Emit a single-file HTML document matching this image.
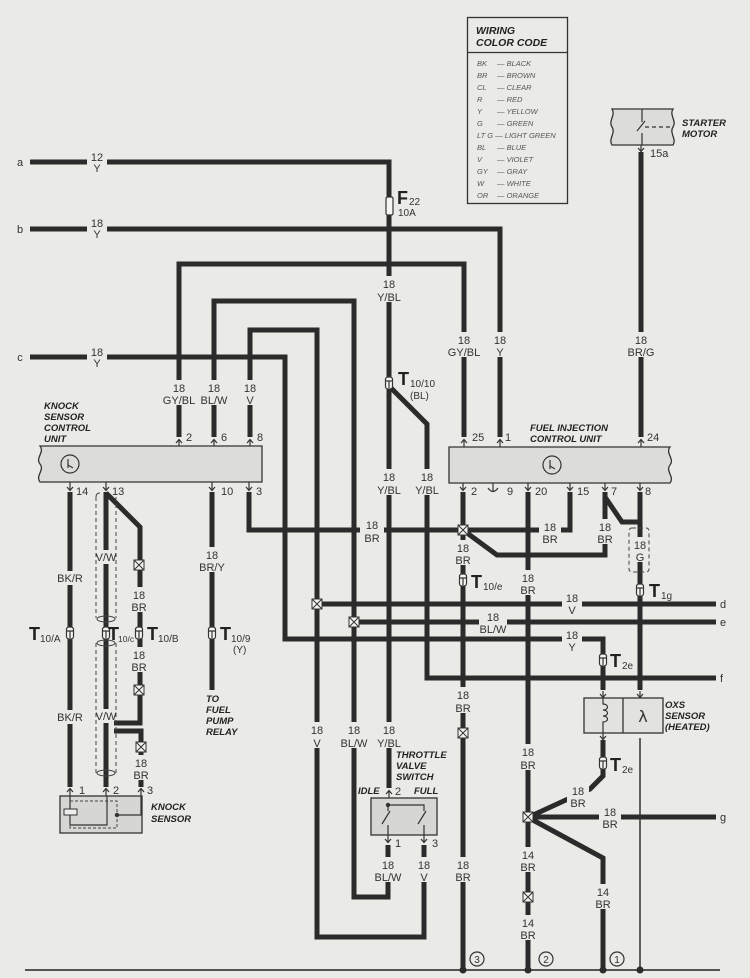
<!DOCTYPE html>
<html><head><meta charset="utf-8"><style>
html,body{margin:0;padding:0;background:#eaeae6}
svg{display:block}
.t{font-family:"Liberation Sans",sans-serif;font-size:11px;fill:#333;text-anchor:middle}
.p{font-family:"Liberation Sans",sans-serif;font-size:11px;fill:#333}
.h{font-family:"Liberation Sans",sans-serif;font-size:9.5px;font-weight:bold;font-style:italic;fill:#222}
.c{font-family:"Liberation Sans",sans-serif;font-size:7.5px;font-style:italic;fill:#555}
.T{font-family:"Liberation Sans",sans-serif;font-size:18px;font-weight:bold;fill:#222}
.s{font-family:"Liberation Sans",sans-serif;font-size:10px;fill:#333}
.m{fill:#eaeae6}
</style></head><body>
<svg width="750" height="978" viewBox="0 0 750 978" xmlns="http://www.w3.org/2000/svg">
<rect width="750" height="978" fill="#eaeae6"/>

<!-- color code box -->
<rect x="467.5" y="17.5" width="100" height="186" fill="none" stroke="#333" stroke-width="1.3"/>
<line x1="467" y1="52.5" x2="568" y2="52.5" stroke="#333" stroke-width="1.3"/>
<text x="476" y="34" class="h" style="font-size:10.5px">WIRING</text>
<text x="476" y="46" class="h" style="font-size:10.5px">COLOR CODE</text>
<g class="c">
<text class="c" x="477" y="66">BK</text><text class="c" x="497" y="66">—  BLACK</text>
<text class="c" x="477" y="78">BR</text><text class="c" x="497" y="78">—  BROWN</text>
<text class="c" x="477" y="90">CL</text><text class="c" x="497" y="90">—  CLEAR</text>
<text class="c" x="477" y="102">R</text><text class="c" x="497" y="102">—  RED</text>
<text class="c" x="477" y="114">Y</text><text class="c" x="497" y="114">—  YELLOW</text>
<text class="c" x="477" y="126">G</text><text class="c" x="497" y="126">—  GREEN</text>
<text class="c" x="477" y="138">LT G — LIGHT GREEN</text>
<text class="c" x="477" y="150">BL</text><text class="c" x="497" y="150">—  BLUE</text>
<text class="c" x="477" y="162">V</text><text class="c" x="497" y="162">—  VIOLET</text>
<text class="c" x="477" y="174">GY</text><text class="c" x="497" y="174">—  GRAY</text>
<text class="c" x="477" y="186">W</text><text class="c" x="497" y="186">—  WHITE</text>
<text class="c" x="477" y="198">OR</text><text class="c" x="497" y="198">—  ORANGE</text>
</g>

<!-- wires -->
<g fill="none" stroke="#2b2b2b" stroke-width="5" stroke-linejoin="miter">
<path d="M30,162 H389 V788"/>
<path d="M30,229 H500 V437"/>
<path d="M179,437 V264 H464 V437"/>
<path d="M214,437 V301 H354 V897 H388 V845"/>
<path d="M250,437 V330 H317 V937 H424 V845"/>
<path d="M30,357 H285 V639 H603 V690"/>
<path d="M389,386 L427,424 V678 H716"/>
<path d="M249,492 V530 H570 V492"/>
<path d="M463,492 V970"/>
<path d="M463,530 L497,555 H605 V492"/>
<path d="M605,497 L622,522 H640"/>
<path d="M528,492 V970"/>
<path d="M640,492 V690"/>
<path d="M641,152 V437"/>
<path d="M317,604 H716"/>
<path d="M354,622 H716"/>
<path d="M528,817 H716"/>
<path d="M531,816 L568,799 L590,789 L603,776 V740"/>
<path d="M531,819 L603,858 V970"/>
<path d="M70,492 V787"/>
<path d="M106,492 V787"/>
<path d="M106,493 L140,527 V723 H114"/>
<path d="M114,731 H141 V787"/>
<path d="M212,492 V690"/>
</g>
<path d="M640,738 V970" stroke="#333" stroke-width="1.5" fill="none"/>
<line x1="25" y1="970" x2="720" y2="970" stroke="#555" stroke-width="2"/>
<g fill="#2b2b2b"><circle cx="463" cy="970" r="3.5"/><circle cx="528" cy="970" r="3.5"/><circle cx="603" cy="970" r="3.5"/><circle cx="640" cy="970" r="3.5"/></g>

<!-- shields -->
<g fill="none" stroke="#444" stroke-width="1" stroke-dasharray="4,3">
<path d="M96,497 V618 M116,497 V618 M96,643 V773 M116,643 V773"/>
<rect x="629" y="528" width="20" height="44" rx="3"/>
</g>
<g fill="none" stroke="#444" stroke-width="1">
<ellipse cx="106" cy="619" rx="9" ry="3"/><ellipse cx="106" cy="643" rx="9" ry="3"/><ellipse cx="106" cy="773" rx="9" ry="3"/>
<path d="M96,497 Q96,493 100,493"/>
</g>

<!-- end letters -->
<text class="t" x="20" y="166">a</text>
<text class="t" x="20" y="233">b</text>
<text class="t" x="20" y="361">c</text>
<text class="p" x="720" y="608">d</text>
<text class="p" x="720" y="626">e</text>
<text class="p" x="720" y="682">f</text>
<text class="p" x="720" y="821">g</text>

<!-- wire labels -->
<rect class="m" x="87" y="150" width="20" height="25"/><text class="t" x="97" y="161">12</text><text class="t" x="97" y="172">Y</text>
<rect class="m" x="87" y="216" width="20" height="25"/><text class="t" x="97" y="227">18</text><text class="t" x="97" y="238">Y</text>
<rect class="m" x="87" y="345" width="20" height="25"/><text class="t" x="97" y="356">18</text><text class="t" x="97" y="367">Y</text>
<rect class="m" x="378" y="276" width="23" height="26"/><text class="t" x="389" y="288">18</text><text class="t" x="389" y="301">Y/BL</text>
<rect class="m" x="450" y="332" width="28" height="25"/><text class="t" x="464" y="344">18</text><text class="t" x="464" y="356">GY/BL</text>
<rect class="m" x="493" y="332" width="14" height="25"/><text class="t" x="500" y="344">18</text><text class="t" x="500" y="356">Y</text>
<rect class="m" x="629" y="332" width="24" height="25"/><text class="t" x="641" y="344">18</text><text class="t" x="641" y="356">BR/G</text>
<rect class="m" x="165" y="380" width="28" height="25"/><text class="t" x="179" y="392">18</text><text class="t" x="179" y="404">GY/BL</text>
<rect class="m" x="202" y="380" width="24" height="25"/><text class="t" x="214" y="392">18</text><text class="t" x="214" y="404">BL/W</text>
<rect class="m" x="244" y="380" width="12" height="25"/><text class="t" x="250" y="392">18</text><text class="t" x="250" y="404">V</text>
<rect class="m" x="378" y="469" width="23" height="26"/><text class="t" x="389" y="481">18</text><text class="t" x="389" y="494">Y/BL</text>
<rect class="m" x="415" y="469" width="24" height="26"/><text class="t" x="427" y="481">18</text><text class="t" x="427" y="494">Y/BL</text>
<rect class="m" x="360" y="517" width="24" height="26"/><text class="t" x="372" y="529">18</text><text class="t" x="372" y="542">BR</text>
<rect class="m" x="455" y="540" width="16" height="25"/><text class="t" x="463" y="552">18</text><text class="t" x="463" y="564">BR</text>
<rect class="m" x="539" y="519" width="22" height="25"/><text class="t" x="550" y="531">18</text><text class="t" x="550" y="543">BR</text>
<rect class="m" x="597" y="519" width="16" height="25"/><text class="t" x="605" y="531">18</text><text class="t" x="605" y="543">BR</text>
<rect class="m" x="634" y="537" width="12" height="25"/><text class="t" x="640" y="549">18</text><text class="t" x="640" y="561">G</text>
<rect class="m" x="520" y="570" width="16" height="25"/><text class="t" x="528" y="582">18</text><text class="t" x="528" y="594">BR</text>
<rect class="m" x="562" y="590" width="20" height="25"/><text class="t" x="572" y="602">18</text><text class="t" x="572" y="614">V</text>
<rect class="m" x="479" y="609" width="28" height="25"/><text class="t" x="493" y="621">18</text><text class="t" x="493" y="633">BL/W</text>
<rect class="m" x="562" y="627" width="20" height="25"/><text class="t" x="572" y="639">18</text><text class="t" x="572" y="651">Y</text>
<rect class="m" x="455" y="687" width="16" height="26"/><text class="t" x="463" y="699">18</text><text class="t" x="463" y="712">BR</text>
<rect class="m" x="310" y="722" width="14" height="26"/><text class="t" x="317" y="734">18</text><text class="t" x="317" y="747">V</text>
<rect class="m" x="342" y="722" width="24" height="26"/><text class="t" x="354" y="734">18</text><text class="t" x="354" y="747">BL/W</text>
<rect class="m" x="378" y="722" width="23" height="26"/><text class="t" x="389" y="734">18</text><text class="t" x="389" y="747">Y/BL</text>
<rect class="m" x="520" y="744" width="16" height="26"/><text class="t" x="528" y="756">18</text><text class="t" x="528" y="769">BR</text>
<rect class="m" x="567" y="783" width="22" height="25"/><text class="t" x="578" y="795">18</text><text class="t" x="578" y="807">BR</text>
<rect class="m" x="599" y="804" width="22" height="25"/><text class="t" x="610" y="816">18</text><text class="t" x="610" y="828">BR</text>
<rect class="m" x="520" y="847" width="16" height="25"/><text class="t" x="528" y="859">14</text><text class="t" x="528" y="871">BR</text>
<rect class="m" x="520" y="915" width="16" height="25"/><text class="t" x="528" y="927">14</text><text class="t" x="528" y="939">BR</text>
<rect class="m" x="595" y="884" width="16" height="25"/><text class="t" x="603" y="896">14</text><text class="t" x="603" y="908">BR</text>
<rect class="m" x="376" y="857" width="24" height="25"/><text class="t" x="388" y="869">18</text><text class="t" x="388" y="881">BL/W</text>
<rect class="m" x="417" y="857" width="14" height="25"/><text class="t" x="424" y="869">18</text><text class="t" x="424" y="881">V</text>
<rect class="m" x="455" y="857" width="16" height="25"/><text class="t" x="463" y="869">18</text><text class="t" x="463" y="881">BR</text>
<rect class="m" x="62" y="571" width="16" height="14"/><text class="t" x="70" y="582">BK/R</text>
<rect class="m" x="62" y="710" width="16" height="14"/><text class="t" x="70" y="721">BK/R</text>
<rect class="m" x="101" y="550" width="10" height="14"/><text class="t" x="106" y="561">V/W</text>
<rect class="m" x="101" y="709" width="10" height="14"/><text class="t" x="106" y="720">V/W</text>
<rect class="m" x="131" y="587" width="16" height="25"/><text class="t" x="139" y="599">18</text><text class="t" x="139" y="611">BR</text>
<rect class="m" x="131" y="647" width="16" height="25"/><text class="t" x="139" y="659">18</text><text class="t" x="139" y="671">BR</text>
<rect class="m" x="133" y="755" width="16" height="25"/><text class="t" x="141" y="767">18</text><text class="t" x="141" y="779">BR</text>
<rect class="m" x="200" y="547" width="24" height="25"/><text class="t" x="212" y="559">18</text><text class="t" x="212" y="571">BR/Y</text>

<!-- fuse -->
<rect x="386" y="197" width="7" height="18" rx="1.5" fill="#f5f5f1" stroke="#333" stroke-width="1.2"/>
<text class="T" x="397" y="204">F</text><text class="s" x="409" y="205">22</text>
<text class="s" x="398" y="216">10A</text>

<!-- splices -->
<g fill="#f3f3ef" stroke="#333" stroke-width="1">
<g transform="translate(463,530)"><rect x="-5" y="-5" width="10" height="10"/><path d="M-5,-5 L5,5 M5,-5 L-5,5"/></g>
<g transform="translate(317,604)"><rect x="-5" y="-5" width="10" height="10"/><path d="M-5,-5 L5,5 M5,-5 L-5,5"/></g>
<g transform="translate(354,622)"><rect x="-5" y="-5" width="10" height="10"/><path d="M-5,-5 L5,5 M5,-5 L-5,5"/></g>
<g transform="translate(139,565)"><rect x="-5" y="-5" width="10" height="10"/><path d="M-5,-5 L5,5 M5,-5 L-5,5"/></g>
<g transform="translate(139,690)"><rect x="-5" y="-5" width="10" height="10"/><path d="M-5,-5 L5,5 M5,-5 L-5,5"/></g>
<g transform="translate(141,747)"><rect x="-5" y="-5" width="10" height="10"/><path d="M-5,-5 L5,5 M5,-5 L-5,5"/></g>
<g transform="translate(463,733)"><rect x="-5" y="-5" width="10" height="10"/><path d="M-5,-5 L5,5 M5,-5 L-5,5"/></g>
<g transform="translate(528,817)"><rect x="-5" y="-5" width="10" height="10"/><path d="M-5,-5 L5,5 M5,-5 L-5,5"/></g>
<g transform="translate(528,897)"><rect x="-5" y="-5" width="10" height="10"/><path d="M-5,-5 L5,5 M5,-5 L-5,5"/></g>
</g>

<!-- T connectors -->
<g fill="#f5f5f1" stroke="#333" stroke-width="1.2">
<g transform="translate(389,383)"><rect x="-3.5" y="-6" width="7" height="12" rx="2.5"/><path d="M-3.5,-2 H3.5 M0,-2 V5" fill="none"/></g>
<g transform="translate(463,580)"><rect x="-3.5" y="-6" width="7" height="12" rx="2.5"/><path d="M-3.5,-2 H3.5 M0,-2 V5" fill="none"/></g>
<g transform="translate(640,590)"><rect x="-3.5" y="-6" width="7" height="12" rx="2.5"/><path d="M-3.5,-2 H3.5 M0,-2 V5" fill="none"/></g>
<g transform="translate(603,660)"><rect x="-3.5" y="-6" width="7" height="12" rx="2.5"/><path d="M-3.5,-2 H3.5 M0,-2 V5" fill="none"/></g>
<g transform="translate(603,763)"><rect x="-3.5" y="-6" width="7" height="12" rx="2.5"/><path d="M-3.5,-2 H3.5 M0,-2 V5" fill="none"/></g>
<g transform="translate(70,633)"><rect x="-3.5" y="-6" width="7" height="12" rx="2.5"/><path d="M-3.5,-2 H3.5 M0,-2 V5" fill="none"/></g>
<g transform="translate(106,633)"><rect x="-3.5" y="-6" width="7" height="12" rx="2.5"/><path d="M-3.5,-2 H3.5 M0,-2 V5" fill="none"/></g>
<g transform="translate(139,633)"><rect x="-3.5" y="-6" width="7" height="12" rx="2.5"/><path d="M-3.5,-2 H3.5 M0,-2 V5" fill="none"/></g>
<g transform="translate(212,633)"><rect x="-3.5" y="-6" width="7" height="12" rx="2.5"/><path d="M-3.5,-2 H3.5 M0,-2 V5" fill="none"/></g>
</g>
<text class="T" x="398" y="385">T</text><text class="s" x="410" y="387">10/10</text><text class="s" x="410" y="399">(BL)</text>
<text class="T" x="471" y="588">T</text><text class="s" x="483" y="590">10/e</text>
<text class="T" x="649" y="597">T</text><text class="s" x="661" y="599">1g</text>
<text class="T" x="610" y="667">T</text><text class="s" x="622" y="669">2e</text>
<text class="T" x="610" y="771">T</text><text class="s" x="622" y="773">2e</text>
<text class="T" x="29" y="640">T</text><text class="s" x="40" y="642">10/A</text>
<text class="T" x="108" y="640">T</text><text class="s" x="118" y="642" style="font-size:8.5px">10/c</text>
<text class="T" x="147" y="640">T</text><text class="s" x="158" y="642">10/B</text>
<text class="T" x="220" y="640">T</text><text class="s" x="231" y="642">10/9</text><text class="s" x="233" y="653">(Y)</text>

<!-- Knock sensor control unit -->
<path d="M40,446 H262 V482 H40 C35,476 45,470 40,464 C35,458 45,452 40,446 Z" fill="#dcdcd8" stroke="#333" stroke-width="1.3"/>
<circle cx="70" cy="464" r="9" fill="none" stroke="#333" stroke-width="1.2"/>
<path d="M68,459 V468 M68,465 L73,468" stroke="#333" stroke-width="1.2" fill="none"/>
<text class="h" x="44" y="409">KNOCK</text>
<text class="h" x="44" y="420">SENSOR</text>
<text class="h" x="44" y="431">CONTROL</text>
<text class="h" x="44" y="442">UNIT</text>
<text class="p" x="186" y="441">2</text><text class="p" x="221" y="441">6</text><text class="p" x="257" y="441">8</text>
<text class="p" x="76" y="495">14</text><text class="p" x="112" y="495">13</text><text class="p" x="221" y="495">10</text><text class="p" x="256" y="495">3</text>

<!-- Fuel injection control unit -->
<path d="M449,447 H670 C665,453 675,459 670,465 C665,471 675,477 670,483 H449 Z" fill="#dcdcd8" stroke="#333" stroke-width="1.3"/>
<circle cx="552" cy="465" r="9" fill="none" stroke="#333" stroke-width="1.2"/>
<path d="M550,460 V469 M550,466 L555,469" stroke="#333" stroke-width="1.2" fill="none"/>
<text class="h" x="530" y="431">FUEL INJECTION</text>
<text class="h" x="530" y="442">CONTROL UNIT</text>
<text class="p" x="472" y="441">25</text><text class="p" x="505" y="441">1</text><text class="p" x="647" y="441">24</text>
<text class="p" x="471" y="495">2</text><text class="p" x="507" y="495">9</text><text class="p" x="535" y="495">20</text>
<text class="p" x="577" y="495">15</text><text class="p" x="611" y="495">7</text><text class="p" x="645" y="495">8</text>

<!-- pin marks -->
<g fill="none" stroke="#333" stroke-width="1.2">
<path d="M179,439 V446 M176,443 L179,439.5 L182,443"/>
<path d="M214,439 V446 M211,443 L214,439.5 L217,443"/>
<path d="M250,439 V446 M247,443 L250,439.5 L253,443"/>
<path d="M464,439 V447 M461,443 L464,439.5 L467,443"/>
<path d="M500,439 V447 M497,443 L500,439.5 L503,443"/>
<path d="M641,439 V447 M638,443 L641,439.5 L644,443"/>
<path d="M70,482 V490 M67,487 L70,490.5 L73,487"/>
<path d="M106,482 V490 M103,487 L106,490.5 L109,487"/>
<path d="M212,482 V490 M209,487 L212,490.5 L215,487"/>
<path d="M249,482 V490 M246,487 L249,490.5 L252,487"/>
<path d="M463,483 V490 M460,487 L463,490.5 L466,487"/>
<path d="M528,483 V490 M525,487 L528,490.5 L531,487"/>
<path d="M570,483 V490 M567,487 L570,490.5 L573,487"/>
<path d="M605,483 V490 M602,487 L605,490.5 L608,487"/>
<path d="M640,483 V490 M637,487 L640,490.5 L643,487"/>
<path d="M493,483 V492 M488,488 Q493,495 498,488"/>
<path d="M641,145 V152 M638,148 L641,151.5 L644,148"/>
<path d="M70,788 V796 M67,792 L70,788.5 L73,792"/>
<path d="M106,788 V796 M103,792 L106,788.5 L109,792"/>
<path d="M141,788 V796 M138,792 L141,788.5 L144,792"/>
<path d="M389,790 V798 M386,794 L389,790.5 L392,794"/>
<path d="M388,835 V843 M385,839 L388,842.5 L391,839"/>
<path d="M424,835 V843 M421,839 L424,842.5 L427,839"/>
<path d="M603,691 V698 M600,694 L603,697.5 L606,694"/>
<path d="M640,691 V698 M637,694 L640,697.5 L643,694"/>
<path d="M603,733 V740 M600,736 L603,739.5 L606,736"/>
</g>

<!-- Starter motor -->
<path d="M612,109 H673 C669,115 677,121 673,127 C669,133 677,139 673,145 H612 C608,139 616,133 612,127 C608,121 616,115 612,109 Z" fill="#dcdcd8" stroke="#333" stroke-width="1.3"/>
<path d="M642,109 V122 M637,131 L645,121 M642,133 V145" stroke="#333" stroke-width="1.2" fill="none"/>
<path d="M645,127 H673" stroke="#333" stroke-width="1.2" stroke-dasharray="4,3" fill="none"/>
<text class="h" x="682" y="126">STARTER</text>
<text class="h" x="682" y="137">MOTOR</text>
<text class="p" x="650" y="157">15a</text>

<!-- Knock sensor -->
<rect x="60" y="796" width="82" height="37" fill="#d6d6d2" stroke="#333" stroke-width="1.3"/>
<rect x="70" y="801" width="47" height="27" fill="none" stroke="#444" stroke-width="1" stroke-dasharray="3,2"/>
<rect x="64" y="809" width="13" height="6" fill="#eee" stroke="#333" stroke-width="1"/>
<path d="M70,796 V809 M70,815 V825 H107 V796 M141,796 V815 H117" stroke="#333" stroke-width="1.2" fill="none"/>
<circle cx="117" cy="815" r="2.2" fill="#333"/>
<text class="p" x="79" y="794">1</text><text class="p" x="113" y="794">2</text><text class="p" x="147" y="794">3</text>
<text class="h" x="151" y="810">KNOCK</text>
<text class="h" x="151" y="822">SENSOR</text>

<text class="h" x="206" y="702">TO</text>
<text class="h" x="206" y="713">FUEL</text>
<text class="h" x="206" y="724">PUMP</text>
<text class="h" x="206" y="735">RELAY</text>

<!-- Throttle valve switch -->
<rect x="371" y="798" width="66" height="37" fill="#d6d6d2" stroke="#333" stroke-width="1.3"/>
<circle cx="388" cy="805" r="2.2" fill="#333"/>
<path d="M388,805 H424 V811 M388,805 V811 M382,824 L390,811 M418,824 L426,811 M388,825 V835 M424,825 V835" stroke="#333" stroke-width="1.2" fill="none"/>
<text class="h" x="396" y="758">THROTTLE</text>
<text class="h" x="396" y="769">VALVE</text>
<text class="h" x="396" y="780">SWITCH</text>
<text class="h" x="358" y="794">IDLE</text>
<text class="p" x="395" y="795">2</text>
<text class="h" x="414" y="794">FULL</text>
<text class="p" x="395" y="847">1</text>
<text class="p" x="432" y="847">3</text>

<!-- OXS sensor -->
<rect x="584" y="698" width="79" height="35" fill="#e2e2de" stroke="#333" stroke-width="1.3"/>
<line x1="623" y1="698" x2="623" y2="733" stroke="#333" stroke-width="1.3"/>
<path d="M603,698 V704 C609,704 609,710 603,710 C609,710 609,716 603,716 C609,716 609,722 603,722 V733" stroke="#333" stroke-width="1.2" fill="none"/>
<text x="643" y="722" font-family="DejaVu Sans, sans-serif" font-size="16" fill="#333" text-anchor="middle">λ</text>
<text class="h" x="665" y="708">OXS</text>
<text class="h" x="665" y="719">SENSOR</text>
<text class="h" x="665" y="730">(HEATED)</text>

<!-- ground circles -->
<g fill="none" stroke="#333" stroke-width="1.2">
<circle cx="477" cy="959" r="7"/><circle cx="546" cy="959" r="7"/><circle cx="617" cy="959" r="7"/>
</g>
<text class="t" x="477" y="963" style="font-size:10px">3</text>
<text class="t" x="546" y="963" style="font-size:10px">2</text>
<text class="t" x="617" y="963" style="font-size:10px">1</text>
</svg>
</body></html>
